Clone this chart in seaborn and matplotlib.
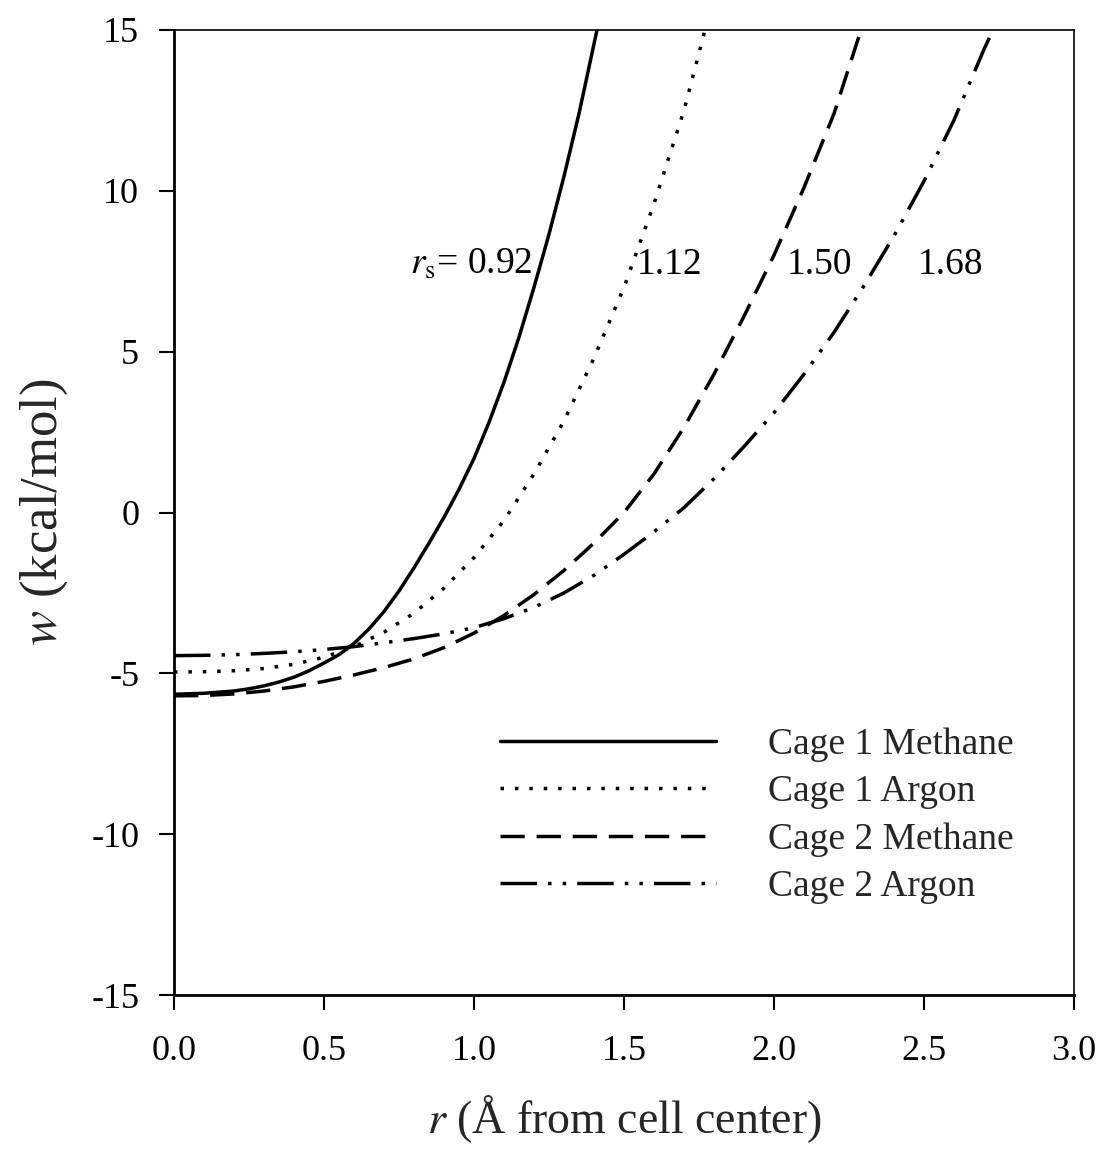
import numpy as np
import pandas as pd
import matplotlib
matplotlib.use("Agg")
import matplotlib.pyplot as plt
import seaborn as sns

# ---- data ----
r_c1m = [0.0, 0.1, 0.2, 0.25, 0.3, 0.35, 0.4, 0.45, 0.5, 0.55, 0.6, 0.65, 0.7, 0.75, 0.8, 0.85,
         0.9, 0.95, 1.0, 1.05, 1.1, 1.15, 1.2, 1.25, 1.3, 1.35, 1.41]
w_c1m = [-5.65, -5.62, -5.55, -5.48, -5.39, -5.27, -5.12, -4.92, -4.68, -4.42, -4.07, -3.62,
         -3.08, -2.44, -1.72, -0.95, -0.15, 0.72, 1.68, 2.8, 4.05, 5.45, 7.0, 8.65, 10.45,
         12.4, 15.0]

r_c1a = [0.0, 0.1, 0.2, 0.3, 0.4, 0.5, 0.6, 0.7, 0.8, 0.9, 1.0, 1.1, 1.2, 1.3, 1.4,
         1.5, 1.6, 1.7, 1.77]
w_c1a = [-4.96, -4.95, -4.92, -4.85, -4.72, -4.5, -4.17, -3.72, -3.13, -2.35, -1.4, -0.25,
         1.2, 2.85, 4.8, 7.0, 9.6, 12.5, 15.0]

r_c2m = [0.0, 0.1, 0.2, 0.3, 0.4, 0.5, 0.6, 0.7, 0.8, 0.9, 1.0, 1.1, 1.2, 1.3, 1.4,
         1.5, 1.6, 1.7, 1.8, 1.9, 2.0, 2.1, 2.2, 2.29]
w_c2m = [-5.7, -5.69, -5.64, -5.55, -5.42, -5.25, -5.05, -4.82, -4.55, -4.2, -3.75, -3.2,
         -2.55, -1.8, -0.95, 0.0, 1.2, 2.65, 4.3, 6.1, 8.0, 10.1, 12.4, 15.0]

r_c2a = [0.0, 0.1, 0.2, 0.3, 0.4, 0.5, 0.6, 0.7, 0.8, 0.9, 1.0, 1.1, 1.2, 1.3, 1.4,
         1.5, 1.6, 1.7, 1.8, 1.9, 2.0, 2.1, 2.2, 2.3, 2.4, 2.5, 2.6, 2.7, 2.73]
w_c2a = [-4.45, -4.44, -4.42, -4.38, -4.33, -4.26, -4.17, -4.05, -3.92, -3.77, -3.58, -3.3,
         -2.95, -2.5, -1.95, -1.3, -0.6, 0.15, 1.05, 2.05, 3.1, 4.3, 5.6, 7.05, 8.6,
         10.3, 12.2, 14.4, 15.0]

series_labels = ["Cage 1 Methane", "Cage 1 Argon", "Cage 2 Methane", "Cage 2 Argon"]
rs_labels = [r"$r_{\mathrm{s}}$= 0.92", "1.12", "1.50", "1.68"]
rs_label_x = [0.787, 1.543, 2.043, 2.48]
rs_label_y = [7.7, 7.7, 7.7, 7.7]

x_ticks = [0.0, 0.5, 1.0, 1.5, 2.0, 2.5, 3.0]
y_ticks = [-15, -10, -5, 0, 5, 10, 15]

# ---- style ----
sns.set_style("ticks")
plt.rcParams["font.family"] = ["Liberation Serif", "DejaVu Serif"]
plt.rcParams["mathtext.fontset"] = "stix"

fig = plt.figure(figsize=(10.99, 11.56), dpi=100)
ax = fig.add_axes([174 / 1099, 1 - 995 / 1156, 900 / 1099, 965 / 1156])

lw = 2.5
styles = [
    "-",
    (0, (1, 3.15)),
    (0, (7, 3.4)),
    (0, (10.5, 3.2, 1, 3.2, 1, 3.2)),
]
data = [(r_c1m, w_c1m), (r_c1a, w_c1a), (r_c2m, w_c2m), (r_c2a, w_c2a)]
for (rr, ww), ls, lab in zip(data, styles, series_labels):
    sns.lineplot(x=rr, y=ww, ax=ax, color="black", linewidth=lw,
                 linestyle=ls, label=lab, sort=True, estimator=None)

for t, xx, yy in zip(rs_labels, rs_label_x, rs_label_y):
    ax.text(xx, yy, t, fontsize=27, ha="left", va="center", color="black")

ax.set_xlim(0, 3.0)
ax.set_ylim(-15, 15)
ax.set_xticks(x_ticks)
ax.set_xticklabels([f"{v:.1f}" for v in x_ticks])
ax.set_yticks(y_ticks)
ax.set_yticklabels([str(v) for v in y_ticks])
ax.tick_params(axis="both", direction="out", length=11, width=1.5,
               labelsize=26, colors="black")
ax.tick_params(axis="y", pad=14)
ax.tick_params(axis="x", pad=18)

for side in ["left", "bottom"]:
    ax.spines[side].set_linewidth(2.0)
for side in ["top", "right"]:
    ax.spines[side].set_linewidth(1.2)
for sp in ax.spines.values():
    sp.set_color("black")
    sp.set_visible(True)

ax.set_xlabel("$r$ (Å from cell center)", fontsize=33, labelpad=18)
ax.set_ylabel("$w$ (kcal/mol)", fontsize=38, labelpad=15)

leg = ax.legend(loc="upper left", bbox_to_anchor=(0.362, 0.277), frameon=False,
                fontsize=27, handlelength=5.76, handletextpad=1.39,
                labelspacing=0.34, borderaxespad=0, borderpad=0)
for h in leg.get_lines():
    h.set_linewidth(lw)
    h.set_color("black")

fig.savefig("out.png", dpi=100)
